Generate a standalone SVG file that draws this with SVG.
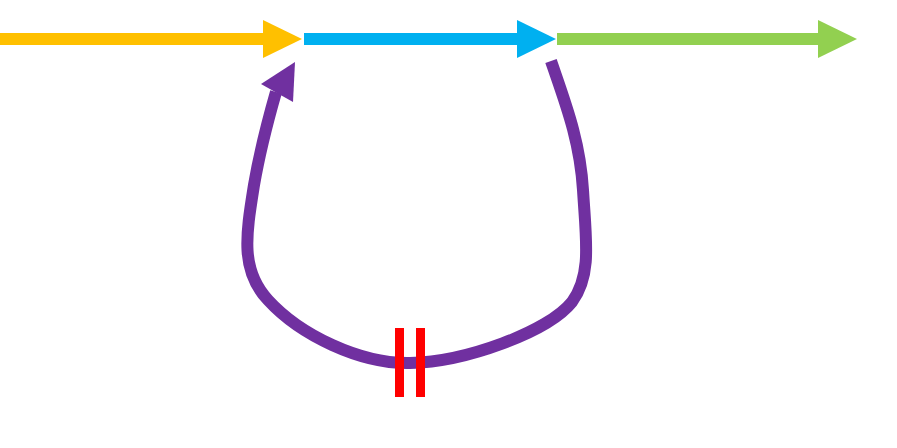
<svg xmlns="http://www.w3.org/2000/svg" width="897" height="448" viewBox="0 0 897 448">
<style>
.sh{stroke-width:12;fill:none}
</style>
<rect width="897" height="448" fill="#fff"/>
<g id="connectors">
<g id="orange"><line class="sh" x1="0" y1="39" x2="266" y2="39" stroke="#FFC000"/><polygon points="263,20 302,39 263,58" fill="#FFC000"/></g>
<g id="blue"><line class="sh" x1="304" y1="39" x2="520" y2="39" stroke="#00B0F0"/><polygon points="517,20 556,39 517,58" fill="#00B0F0"/></g>
<g id="green"><line class="sh" x1="557" y1="39" x2="821" y2="39" stroke="#92D050"/><polygon points="818,20 857,39 818,58" fill="#92D050"/></g>
<g id="feedback">
<path class="sh" stroke="#7030A0" d="M551,61 C565,102 580,140 583,190 C586,240 592,275 572,302 C548,332 465,362 410,363 C360,364 300,335 268,300 C240,270 246,235 254,185 C260,150 268,120 276,92"/>
<polygon points="295,62 261,84 293,102" fill="#7030A0"/>
</g>
</g>
<g id="break">
<rect x="395" y="328" width="9" height="69" fill="#FF0000"/>
<rect x="416" y="328" width="9" height="69" fill="#FF0000"/>
</g>
</svg>
